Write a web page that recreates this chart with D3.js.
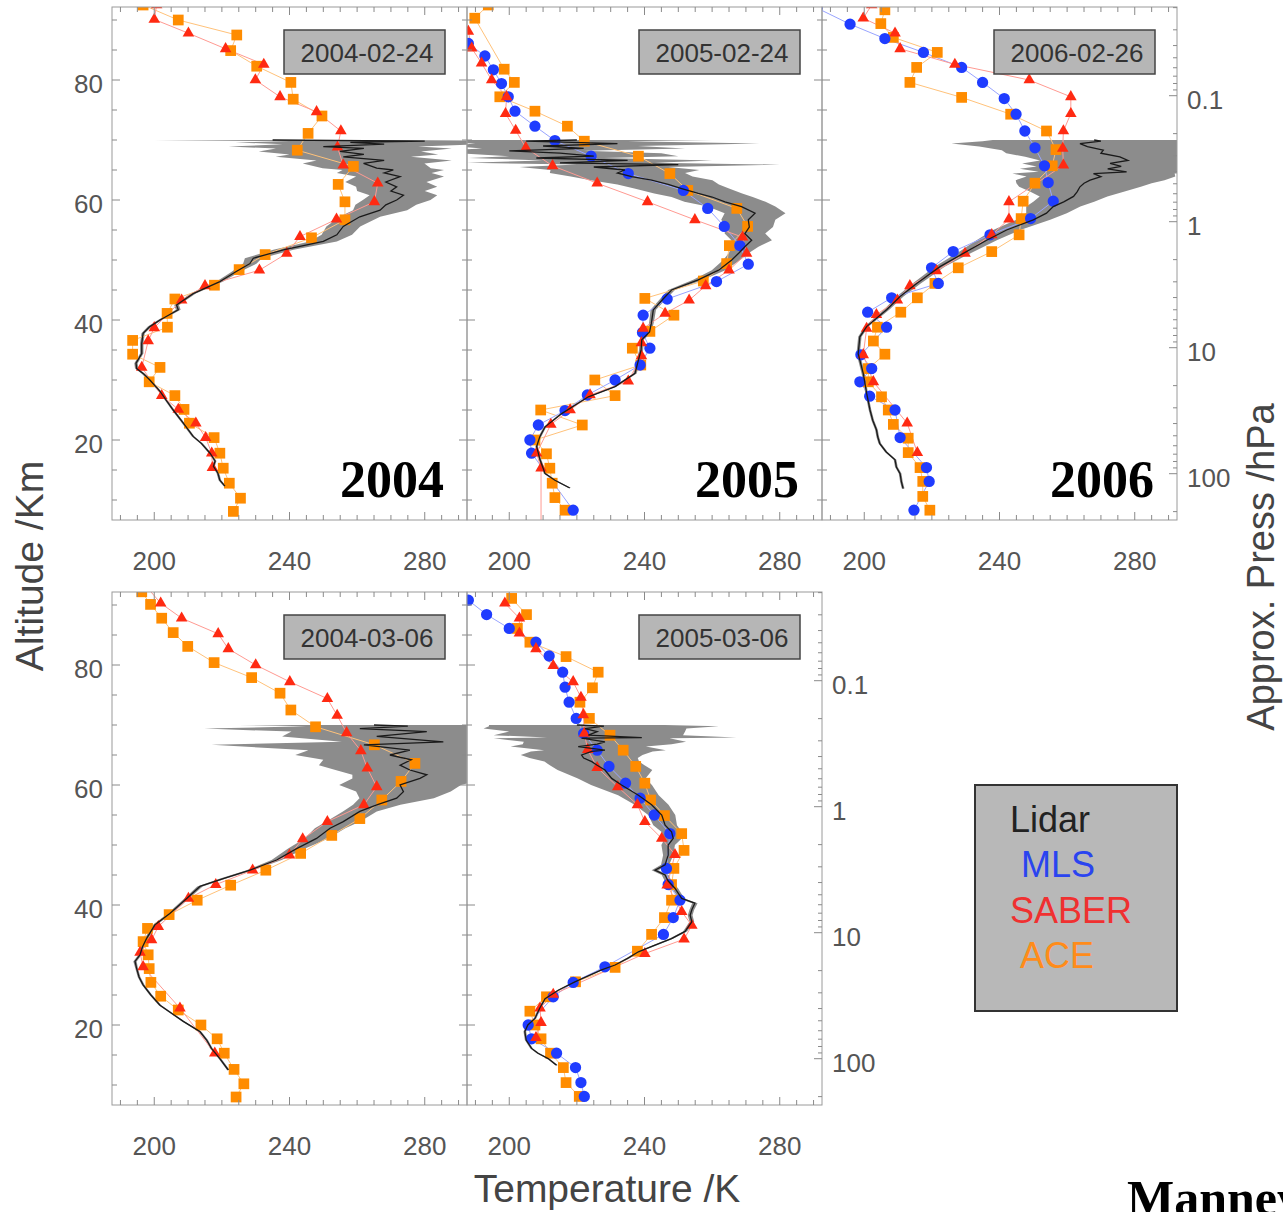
<!DOCTYPE html>
<html><head><meta charset="utf-8">
<script src="https://cdn.jsdelivr.net/npm/d3@7"></script>
<style>body{margin:0;background:#fff}svg{display:block}</style>
</head><body>
<svg id="c" width="1283" height="1212"></svg>
<script>
// ---------------- data ([altitude km, temperature K] ; lidar: [alt, T, err]) ----------------
const dates = ["2004-02-24","2005-02-24","2006-02-26","2004-03-06","2005-03-06"];
const years = ["2004","2005","2006"];
const xTickLabels = [200,240,280];
const altTickLabels = [20,40,60,80];
const pressTickLabels = [0.1,1,10,100];
const pressTickText = ["0.1","1","10","100"];
const legendNames = ["Lidar","MLS","SABER","ACE"];

const lidar1 = [[12.3,220.9,.4],[13.3,219.4,.4],[14.5,218.8,.4],[15.6,217.5,.4],[16.5,218.0,.4],[17.8,216.5,.4],[19.4,214.0,.4],[20.6,211.5,.4],[22.8,208.6,.4],[25.0,205.6,.4],[28.1,201.7,.4],[30.0,198.7,.5],[31.1,196.7,.5],[31.9,194.8,.5],[32.8,194.6,.5],[34.4,196.3,.5],[36.1,196.3,.5],[37.8,196.7,.5],[38.9,198.7,.6],[40.0,201.7,.6],[41.7,207.1,.7],[42.5,206.6,.7],[44.4,211.5,.8],[46.4,219.4,1],[48.0,224.0,1.2],[49.4,228.3,2],[50.3,229.3,2.5],[51.7,238.2,3],[53.1,250.0,4],[54.2,254.0,4.5],[55.6,255.9,5],[57.2,260.8,6],[58.3,266.8,8],[59.2,268.5,9],[60.0,271.7,10],[60.8,273.7,10],[61.5,270.0,10],[62.2,271.7,12],[63.0,268.5,12],[63.9,272.7,13],[64.5,268.0,14],[65.0,270.7,15],[65.3,265.8,16],[66.1,261.9,18],[66.6,268.0,20],[67.2,255.9,20],[67.6,262.0,22],[68.1,254.9,24],[68.6,262.0,26],[68.9,250.0,28],[69.3,268.0,30],[69.6,258.0,34],[69.8,280.0,40],[70.0,235.0,35]];
const saber1 = [[92.5,200.7],[90.1,200.0],[87.8,210.1],[85.2,221.1],[82.6,232.4],[80.0,229.9],[77.2,237.2],[74.7,248.0],[71.5,255.2],[68.8,254.2],[65.8,255.9],[62.8,266.1],[59.7,265.1],[56.8,253.9],[53.9,243.1],[51.1,239.2],[48.3,231.1],[45.7,215.0],[43.3,208.1],[38.7,200.0],[36.5,198.2],[32.1,196.3],[27.4,202.2],[25.1,207.1],[22.8,212.3],[20.4,215.2],[17.8,217.0],[15.4,217.2]];
const ace1 = [[92.5,196.7],[90.0,207.1],[87.5,224.4],[84.9,222.6],[82.3,230.3],[79.6,240.4],[76.8,241.1],[74.0,249.6],[71.1,245.5],[68.3,242.3],[65.6,258.9],[62.6,254.4],[59.7,256.4],[56.7,256.4],[53.7,246.5],[50.9,232.8],[48.4,225.1],[45.8,217.8],[43.5,206.1],[41.1,203.8],[38.8,203.9],[36.6,193.6],[34.3,193.6],[32.1,201.7],[29.7,198.5],[27.4,206.1],[25.1,208.8],[22.8,210.4],[20.4,217.7],[17.8,219.4],[15.3,220.4],[12.8,222.2],[10.3,225.5],[8.1,223.4]];

const lidar2 = [[12.0,217.9,.4],[13.3,213.5,.4],[14.4,210.6,.4],[16.7,209.1,.4],[18.9,208.1,.4],[20.5,209.0,.4],[22.2,210.6,.4],[24.4,215.5,.4],[27.2,223.4,.5],[28.9,231.3,.5],[31.1,237.2,.5],[33.3,238.2,.5],[35.0,239.0,.6],[36.7,239.2,.6],[38.0,241.5,.6],[39.7,242.1,.7],[41.7,242.6,.8],[43.5,245.5,.9],[45.0,248.0,1],[46.7,255.9,1.5],[48.3,261.9,2],[50.0,265.8,2.5],[51.2,268.0,3],[52.2,269.7,4],[53.3,271.7,6],[54.4,269.7,6],[55.5,271.0,7],[56.7,270.7,8],[57.8,272.7,9],[58.9,268.7,10],[59.7,263.8,12],[60.5,260.0,12],[61.1,255.9,13],[61.9,251.0,14],[62.6,247.0,15],[63.3,242.1,18],[63.9,236.2,18],[64.5,232.0,20],[65.0,234.2,22],[65.5,225.0,22],[65.9,250.0,30],[66.2,215.0,28],[66.6,235.0,25],[67.0,208.0,20],[67.3,225.0,25],[67.8,215.0,30],[68.2,200.0,22],[68.6,222.0,30],[69.0,210.0,28],[69.4,232.0,42],[69.8,205.0,30],[70.0,220.0,40]];
const mls2 = [[86.1,187.9],[84.0,192.8],[81.7,195.3],[79.4,197.7],[77.2,199.7],[74.8,201.7],[72.3,207.6],[69.9,213.5],[67.3,224.2],[64.4,235.2],[61.6,251.5],[58.6,258.7],[55.6,263.6],[52.4,268.2],[49.3,270.7],[46.4,261.3],[43.5,246.7],[40.8,239.6],[37.9,239.4],[35.3,241.6],[32.5,238.7],[30.0,231.3],[27.5,223.1],[24.9,216.5],[22.5,208.6],[20.0,206.1],[17.8,206.6],[8.3,218.9]];
const saber2 = [[88.1,187.9],[85.3,188.9],[82.8,191.8],[80.0,194.8],[77.2,199.2],[74.4,198.9],[71.6,201.9],[68.7,204.9],[65.7,212.8],[62.8,226.0],[59.7,240.9],[56.7,254.9],[53.8,269.0],[51.1,270.2],[48.3,265.0],[45.7,258.1],[43.3,253.2],[41.1,246.1],[38.6,239.6],[36.2,239.1],[34.0,239.1],[29.8,235.2],[27.5,223.9],[25.0,218.0],[22.6,212.3],[17.8,208.1],[15.3,209.4],[4.0,209.4]];
const ace2 = [[92.5,193.8],[90.3,189.8],[81.8,198.5],[79.6,201.5],[77.2,197.2],[74.8,207.6],[72.3,217.2],[69.8,222.2],[67.3,238.2],[64.4,247.5],[61.6,252.8],[58.6,267.3],[55.6,270.5],[52.4,265.1],[49.4,264.3],[46.5,257.4],[43.6,240.1],[40.8,248.7],[38.1,241.6],[35.3,236.4],[32.5,238.9],[30.0,225.3],[27.4,231.3],[25.0,209.3],[22.5,221.6],[20.0,207.6],[17.7,211.0],[15.3,212.0],[12.8,212.7],[10.4,213.5],[8.3,216.5]];

const lidar3 = [[11.9,211.5,.4],[13.0,211.0,.4],[14.4,210.6,.4],[15.5,209.5,.4],[16.7,209.1,.4],[18.0,206.5,.4],[19.4,204.6,.4],[20.5,204.0,.4],[21.7,203.6,.4],[23.3,202.5,.4],[25.0,201.7,.4],[27.8,200.7,.4],[31.1,199.7,.5],[34.4,198.2,.5],[37.2,198.7,.5],[38.9,200.7,.6],[41.7,206.6,.8],[43.9,210.6,1],[46.1,215.5,1.2],[48.9,222.4,1.5],[51.1,229.3,2],[53.3,236.2,3],[55.0,242.1,4],[56.7,250.0,5],[57.8,253.9,6],[58.9,255.9,8],[59.7,259.0,9],[60.6,261.9,10],[61.4,263.0,14],[62.2,263.8,18],[62.8,265.0,20],[63.3,266.8,22],[63.9,270.0,22],[64.4,267.8,24],[64.7,277.6,26],[65.2,272.0,26],[65.6,276.0,25],[66.1,272.7,26],[66.6,278.0,26],[67.2,275.6,28],[67.8,270.0,28],[68.3,270.7,30],[68.9,266.0,32],[69.4,263.8,38],[69.8,270.0,35],[70.0,268.0,30]];
const mls3 = [[92.0,186.0],[89.3,195.8],[86.9,206.1],[84.6,217.5],[82.1,228.8],[79.6,235.0],[76.9,241.4],[74.3,244.9],[71.5,247.5],[68.7,250.5],[65.7,253.3],[62.9,254.4],[59.8,255.9],[56.9,249.2],[54.2,237.2],[51.4,226.3],[48.7,219.9],[46.1,221.9],[43.7,208.1],[41.3,201.0],[38.8,206.6],[34.2,199.0],[31.9,202.2],[29.7,198.7],[27.3,201.6],[25.0,209.1],[20.4,210.6],[15.4,218.4],[13.1,219.2],[8.3,214.7]];
const saber3 = [[92.5,202.2],[90.3,199.7],[87.8,209.1],[85.2,210.6],[82.6,226.8],[80.0,248.8],[77.2,261.1],[74.4,261.1],[71.5,258.9],[68.6,258.7],[65.8,258.9],[59.7,242.8],[56.8,242.8],[54.2,237.7],[51.1,229.8],[48.2,221.4],[45.7,213.5],[43.3,209.8],[40.9,203.6],[38.6,200.7],[34.2,199.7],[29.7,202.7],[22.8,212.7],[17.9,215.7]];
const ace3 = [[91.7,206.1],[89.4,204.9],[87.1,208.6],[84.6,221.6],[82.1,215.5],[79.6,213.5],[77.1,228.8],[74.3,243.3],[71.5,253.9],[68.4,256.7],[65.7,255.6],[62.8,250.5],[59.8,247.0],[56.9,246.4],[54.2,245.8],[51.4,237.7],[48.7,227.8],[46.1,220.9],[43.7,215.7],[41.3,210.8],[38.8,203.9],[36.5,202.7],[34.3,206.1],[31.9,201.2],[29.7,201.2],[27.2,205.1],[25.0,207.1],[22.6,208.6],[20.3,213.0],[17.9,213.0],[15.4,216.5],[13.1,217.3],[10.6,217.3],[8.3,219.4]];

const lidar4 = [[12.5,221.9,.4],[14.4,219.4,.4],[16.1,216.9,.4],[17.5,215.5,.4],[18.9,213.5,.4],[20.6,208.6,.4],[22.0,205.0,.4],[23.3,201.7,.4],[25.0,199.0,.4],[26.7,196.7,.4],[28.0,195.5,.4],[29.4,194.8,.4],[30.6,194.3,.5],[31.7,195.8,.5],[33.0,196.5,.5],[34.4,197.7,.5],[36.7,200.2,.6],[38.6,204.6,.6],[41.1,209.6,.7],[43.1,213.5,.8],[44.4,220.4,.9],[45.8,228.3,1],[47.5,236.2,1.5],[49.4,242.1,2.5],[51.1,248.0,3.5],[52.8,252.0,4.5],[53.9,255.9,5],[55.6,260.8,5],[56.7,265.8,7],[57.8,271.7,11],[58.9,273.7,14],[60.0,272.7,18],[61.1,278.6,20],[61.7,280.6,22],[62.5,275.6,22],[63.3,272.7,24],[64.2,276.0,26],[65.0,269.7,28],[65.8,275.6,30],[66.7,262.0,45],[67.2,285.5,30],[68.1,265.8,28],[68.9,280.6,40],[69.4,260.8,46],[69.8,275.0,30],[70.0,265.0,40]];
const saber4 = [[93.5,197.0],[90.3,201.9],[87.8,208.1],[85.2,218.9],[82.7,221.9],[80.0,230.0],[77.2,240.1],[74.4,251.2],[71.6,254.1],[68.7,256.9],[65.7,261.1],[62.8,263.0],[59.7,265.8],[56.7,262.0],[53.9,251.2],[51.0,243.9],[48.3,240.0],[45.8,229.1],[43.4,218.2],[41.1,210.1],[36.4,201.2],[34.2,199.2],[32.1,195.8],[29.7,196.7],[22.8,207.6],[15.3,217.9]];
const ace4 = [[92.2,196.3],[90.1,198.9],[87.8,202.2],[85.4,205.6],[83.1,209.9],[80.4,217.7],[77.9,228.8],[75.3,237.2],[72.5,240.4],[69.7,247.7],[66.7,265.1],[63.6,277.1],[60.6,273.0],[57.5,267.3],[54.4,260.8],[51.6,252.5],[48.6,243.3],[45.8,233.0],[43.3,222.6],[40.8,212.7],[38.4,204.4],[36.1,198.0],[33.9,196.7],[31.7,198.2],[29.4,198.5],[27.1,199.0],[24.8,201.9],[22.5,207.1],[20.0,213.8],[17.7,218.6],[15.3,220.7],[12.6,223.6],[10.2,226.5],[8.0,224.2]];

const lidar5 = [[13.3,214.0,.4],[14.4,211.5,.4],[15.3,208.5,.4],[16.1,206.6,.4],[17.5,205.0,.4],[18.9,204.6,.4],[20.0,205.5,.4],[21.1,207.6,.4],[22.8,209.0,.4],[24.4,210.6,.4],[25.8,214.5,.4],[27.2,219.4,.5],[29.2,227.3,.5],[30.0,231.3,.5],[31.1,235.0,.5],[32.2,238.2,.5],[33.3,243.1,.6],[34.4,248.0,.6],[35.6,252.0,.6],[37.2,254.0,.7],[38.3,253.5,.7],[39.2,254.0,.7],[40.3,254.9,.8],[41.1,251.0,.8],[42.8,249.0,.9],[44.0,247.0,1],[45.0,246.1,1],[45.8,243.1,1],[46.7,246.1,1.2],[48.3,247.0,1.5],[50.0,247.0,2],[51.1,248.5,2.5],[52.2,248.0,3],[53.3,246.1,3.5],[55.0,245.1,4],[56.7,242.1,5],[58.3,238.2,6],[60.0,233.2,9],[61.1,230.3,10],[62.5,228.3,14],[63.3,226.0,14],[63.9,224.4,14],[64.5,222.0,16],[65.0,221.4,18],[65.6,224.4,18],[65.8,228.3,18],[66.4,220.4,20],[66.8,226.0,22],[67.2,228.3,24],[67.8,221.4,26],[67.9,239.2,28],[68.3,223.4,28],[68.9,226.0,26],[69.4,222.4,30],[69.8,228.0,34],[70.0,220.0,26]];
const mls5 = [[90.8,187.9],[88.4,193.3],[86.1,200.0],[83.8,207.9],[81.5,211.8],[78.8,215.8],[76.3,216.5],[73.8,217.7],[71.1,219.8],[68.6,222.0],[65.8,226.0],[63.1,229.5],[60.3,234.4],[57.8,238.7],[55.0,242.9],[51.9,247.5],[46.1,246.5],[43.4,247.0],[40.8,250.5],[37.9,248.5],[35.1,245.6],[29.7,228.3],[27.1,218.9],[24.7,213.0],[20.0,205.6],[17.7,206.6],[15.3,214.0],[12.9,219.6],[10.4,221.2],[8.1,222.2]];
const saber5 = [[90.3,198.7],[87.8,203.0],[85.3,203.0],[82.7,207.9],[79.9,213.0],[77.2,218.9],[74.6,221.2],[71.7,221.9],[68.6,222.2],[65.9,223.2],[62.9,226.0],[59.7,232.1],[56.7,237.9],[53.9,240.1],[51.1,245.1],[48.4,249.0],[43.3,246.7],[38.9,251.0],[36.6,254.0],[34.3,251.7],[31.9,240.1],[25.1,213.0],[22.8,209.1],[20.4,209.4],[17.9,207.9]];
const ace5 = [[91.1,200.7],[88.4,205.1],[86.1,202.4],[83.8,206.1],[81.4,216.8],[78.8,226.3],[76.2,224.6],[73.8,220.9],[71.1,223.7],[68.3,229.8],[65.8,233.7],[63.1,237.4],[60.3,240.1],[57.5,241.8],[54.9,245.9],[51.9,251.0],[49.1,251.7],[46.1,248.7],[43.4,248.0],[40.8,248.0],[37.9,245.9],[35.1,242.1],[32.3,237.9],[29.6,231.3],[27.2,219.6],[24.7,211.0],[22.3,206.1],[20.0,207.6],[17.7,209.4],[15.3,212.2],[12.9,216.0],[10.4,216.8],[8.1,220.7]];

// ---------------- layout ----------------
const svg = d3.select("#c");
const W = 355, H = 513;
const colX = [112, 467, 822], rowY = [7, 592];
const FONT = "'Liberation Sans', Arial, Helvetica, sans-serif";
const SERIF = "'Liberation Serif', 'Times New Roman', serif";
const x = d3.scaleLinear().domain([187.5, 292.5]).range([0, W]);
const y = d3.scaleLinear().domain([6.667, 92.167]).range([H, 0]);
const yp = d3.scaleLog().domain([Math.pow(10, -1.704), Math.pow(10, 2.3675)]).range([0, H]);

const COL = {mls:"#1f3cff", saber:"#ff2a12", ace:"#ff8c00"};
const LINECOL = {mls:"#98a4ff", saber:"#ff9a92", ace:"#ffc27a"};

const panels = [
  {date:dates[0], year:years[0], lidar:lidar1, mls:null, saber:saber1, ace:ace1, r:0, c:0},
  {date:dates[1], year:years[1], lidar:lidar2, mls:mls2, saber:saber2, ace:ace2, r:0, c:1},
  {date:dates[2], year:years[2], lidar:lidar3, mls:mls3, saber:saber3, ace:ace3, r:0, c:2, press:true},
  {date:dates[3], year:null, lidar:lidar4, mls:null, saber:saber4, ace:ace4, r:1, c:0},
  {date:dates[4], year:null, lidar:lidar5, mls:mls5, saber:saber5, ace:ace5, r:1, c:1, press:true}
];

const defs = svg.append("defs");
const band = d3.area().x0(d => x(d[1] - d[2])).x1(d => x(d[1] + d[2])).y(d => y(d[0]));
const line = d3.line().x(d => x(d[1])).y(d => y(d[0]));

panels.forEach((p, i) => {
  const g = svg.append("g").attr("transform", `translate(${colX[p.c]},${rowY[p.r]})`);
  defs.append("clipPath").attr("id", "clip" + i).append("rect").attr("width", W).attr("height", H);
  const pg = g.append("g").attr("clip-path", `url(#clip${i})`);

  // lidar uncertainty band
  pg.append("path").datum(p.lidar).attr("d", band).attr("fill", "#8c8c8c").attr("stroke", "none");

  const series = [["ace", p.ace], ["mls", p.mls], ["saber", p.saber]];
  series.forEach(([k, data]) => {
    if (!data) return;
    const s = data.slice().sort((a, b) => b[0] - a[0]);
    pg.append("path").datum(s).attr("d", line).attr("fill", "none")
      .attr("stroke", LINECOL[k]).attr("stroke-width", 1);
  });
  series.forEach(([k, data]) => {
    if (!data) return;
    const pts = pg.append("g").selectAll("path").data(data).join("path")
      .attr("transform", d => `translate(${x(d[1])},${y(d[0])})`)
      .attr("fill", COL[k]);
    if (k === "mls") pts.attr("d", d3.symbol(d3.symbolCircle, 100)());
    if (k === "ace") pts.attr("d", d3.symbol(d3.symbolSquare, 115)());
    if (k === "saber") pts.attr("d", d3.symbol(d3.symbolTriangle, 58)());
  });

  // lidar line
  pg.append("path").datum(p.lidar).attr("d", line).attr("fill", "none")
    .attr("stroke", "#1a1a1a").attr("stroke-width", 1.3);

  // frame
  g.append("rect").attr("width", W).attr("height", H).attr("fill", "none")
    .attr("stroke", "#9a9a9a").attr("stroke-width", 1);

  const tk = g.append("g").attr("stroke", "#8a8a8a").attr("stroke-width", 1);
  d3.range(190, 291, 5).forEach(t => {
    const L = (t % 40 === 0) ? 8 : 5;
    tk.append("line").attr("x1", x(t)).attr("x2", x(t)).attr("y1", H).attr("y2", H - L);
    tk.append("line").attr("x1", x(t)).attr("x2", x(t)).attr("y1", 0).attr("y2", L);
  });
  d3.range(10, 91, 5).forEach(z => {
    const L = (z % 20 === 0) ? 8 : 5;
    tk.append("line").attr("x1", 0).attr("x2", L).attr("y1", y(z)).attr("y2", y(z));
    if (!p.press) tk.append("line").attr("x1", W).attr("x2", W - L).attr("y1", y(z)).attr("y2", y(z));
  });
  if (p.press) {
    [0.01, 0.1, 1, 10, 100].forEach(dec => {
      d3.range(1, 10).forEach(m => {
        const v = dec * m;
        if (v < yp.domain()[0] || v > yp.domain()[1]) return;
        const L = m === 1 ? 8 : 4;
        tk.append("line").attr("x1", W).attr("x2", W - L).attr("y1", yp(v)).attr("y2", yp(v));
      });
    });
    pressTickLabels.forEach((v, j) => {
      g.append("text").attr("x", W + 10).attr("y", yp(v) + 13.5).text(pressTickText[j])
        .attr("font-family", FONT).attr("font-size", 26).attr("fill", "#555");
    });
  }

  xTickLabels.forEach(t => {
    g.append("text").attr("x", x(t)).attr("y", H + 50).attr("text-anchor", "middle").text(t)
      .attr("font-family", FONT).attr("font-size", 26).attr("fill", "#555");
  });
  if (p.c === 0) {
    altTickLabels.forEach(z => {
      g.append("text").attr("x", -9).attr("y", y(z) + 13).attr("text-anchor", "end").text(z)
        .attr("font-family", FONT).attr("font-size", 26).attr("fill", "#555");
    });
  }

  // date box
  g.append("rect").attr("x", 172).attr("y", 23).attr("width", 161).attr("height", 44)
    .attr("fill", "#b6b6b6").attr("stroke", "#444").attr("stroke-width", 1.5);
  g.append("text").attr("x", 255).attr("y", 55).attr("text-anchor", "middle").text(p.date)
    .attr("font-family", FONT).attr("font-size", 26).attr("fill", "#333");

  if (p.year) {
    g.append("text").attr("x", 332).attr("y", 490).attr("text-anchor", "end").text(p.year)
      .attr("font-family", SERIF).attr("font-weight", "bold").attr("font-size", 52).attr("fill", "#000");
  }
});

// axis titles
svg.append("text").attr("transform", "translate(43,566) rotate(-90)").attr("text-anchor", "middle")
  .text("Altitude /Km").attr("font-family", FONT).attr("font-size", 39).attr("fill", "#444");
svg.append("text").attr("x", 607).attr("y", 1202).attr("text-anchor", "middle")
  .text("Temperature /K").attr("font-family", FONT).attr("font-size", 39).attr("fill", "#444");
svg.append("text").attr("transform", "translate(1274,567) rotate(-90)").attr("text-anchor", "middle")
  .text("Approx. Press /hPa").attr("font-family", FONT).attr("font-size", 38).attr("fill", "#444");

// legend
const lg = svg.append("g");
lg.append("rect").attr("x", 975).attr("y", 785).attr("width", 202).attr("height", 226)
  .attr("fill", "#b8b8b8").attr("stroke", "#333").attr("stroke-width", 2);
const legColors = ["#222", "#2a44f0", "#f03030", "#ff8c1a"];
const legX = [1010, 1021, 1010, 1020];
const legY = [832, 877, 923, 968];
legendNames.forEach((n, i) => {
  lg.append("text").attr("x", legX[i]).attr("y", legY[i]).text(n)
    .attr("font-family", FONT).attr("font-size", 36).attr("fill", legColors[i]);
});

svg.append("text").attr("x", 1127).attr("y", 1215).text("Manney et al.")
  .attr("font-family", SERIF).attr("font-weight", "bold").attr("font-size", 50).attr("fill", "#000");
</script>
</body></html>
